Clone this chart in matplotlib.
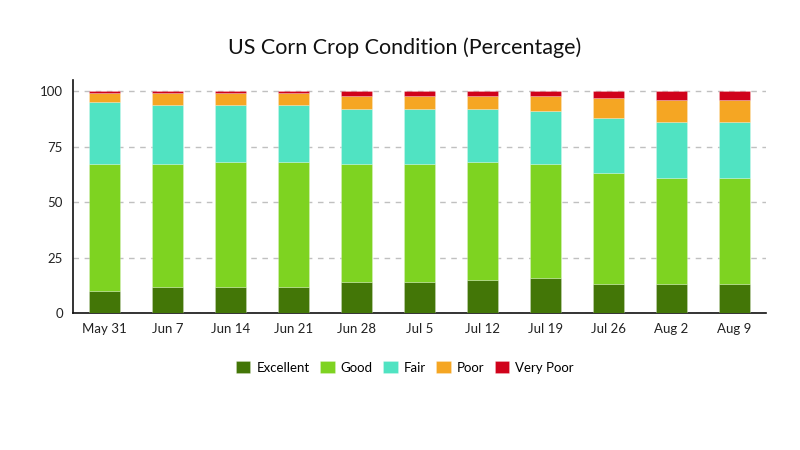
import numpy as np
import matplotlib.pyplot as plt

plt.rcParams['font.family'] = ['Lato', 'DejaVu Sans']

# semanas
weeks = ['May 31', 'Jun 7', 'Jun 14', 'Jun 21', 'Jun 28', 'Jul 5',
         'Jul 12', 'Jul 19', 'Jul 26', 'Aug 2', 'Aug 9']

# condicao (%)
excellent = [10, 12, 12, 12, 14, 14, 15, 16, 13, 13, 13]
good = [57, 55, 56, 56, 53, 53, 53, 51, 50, 48, 48]
fair = [28, 27, 26, 26, 25, 25, 24, 24, 25, 25, 25]
poor = [4, 5, 5, 5, 6, 6, 6, 7, 9, 10, 10]
very_poor = [1, 1, 1, 1, 2, 2, 2, 2, 3, 4, 4]

series = [excellent, good, fair, poor, very_poor]
names = ['Excellent', 'Good', 'Fair', 'Poor', 'Very Poor']
colors = ['#437607', '#7ed321', '#50e3c2', '#f5a623', '#d0021b']

fig = plt.figure(figsize=(8, 4.5), dpi=100)
ax = fig.add_axes([0.091, 0.304, 0.866, 0.518])

x = np.arange(len(weeks))
base = np.zeros(len(weeks))
for vals, nm, c in zip(series, names, colors):
    ax.bar(x, vals, 0.49, bottom=base, color=c, label=nm,
           edgecolor=(1, 1, 1, 0.25), linewidth=0.6, zorder=3)
    base += np.array(vals)

ax.set_xlim(-0.5, len(weeks) - 0.5)
ax.set_ylim(0, 105)
ax.set_yticks([0, 25, 50, 75, 100])
ax.set_xticks(x)
ax.set_xticklabels(weeks)
ax.tick_params(length=0, labelsize=9.5, colors='#222222', pad=7)
ax.yaxis.grid(True, linestyle=(0, (4, 4)), color='#c0c0c0', linewidth=1, zorder=0)
for s in ['top', 'right']:
    ax.spines[s].set_visible(False)
for s in ['left', 'bottom']:
    ax.spines[s].set_color('#111111')
    ax.spines[s].set_linewidth(1.2)

fig.text(0.506, 0.893, 'US Corn Crop Condition (Percentage)', ha='center', va='center',
         fontsize=15.5, color='#111111')

fig.legend(loc='center', bbox_to_anchor=(0.506, 0.184), ncol=5, frameon=False,
           fontsize=9.5, handlelength=1.1, handleheight=1.1, handletextpad=0.45,
           columnspacing=0.8)

plt.savefig('out.png')
